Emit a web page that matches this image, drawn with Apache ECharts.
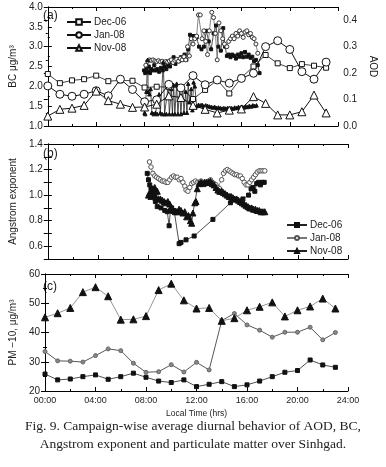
<!DOCTYPE html>
<html>
<head>
<meta charset="utf-8">
<script src="https://cdn.jsdelivr.net/npm/echarts@6/dist/echarts.min.js"></script>
<style>
  html, body { margin: 0; padding: 0; background: #fff; }
  #chart { width: 386px; height: 467px; }
</style>
</head>
<body>
<div id="chart"></div>
<script>
// hourly BC (µg/m3), 00:00 .. 23:00
const hours = [0, 1, 2, 3, 4, 5, 6, 7, 8, 9, 10, 11, 12, 13, 14, 15, 16, 17, 18, 19, 20, 21, 22, 23];
const bcDec06 = [2.31, 2.08, 2.15, 2.18, 2.27, 2.13, 2.15, 2.14, 1.97, 1.99, 1.98, 1.97, 1.68, 1.91, 2.16, 1.82, 2.22, 2.5, 2.79, 2.58, 2.46, 2.56, 2.52, 2.47];
const bcJan08 = [2.01, 1.8, 1.75, 1.8, 1.89, 1.76, 2.18, 1.92, 1.61, 1.66, 2.05, 1.96, 2.27, 2.04, 2.16, 2.08, 2.2, 2.33, 3.0, 3.15, 2.93, 2.37, 2.18, 2.61];
const bcNov08 = [1.25, 1.42, 1.45, 1.52, 1.88, 1.64, 1.55, 1.47, 1.48, 1.55, 1.76, 1.72, 1.52, 1.42, 1.33, 1.4, 1.43, 1.74, 1.57, 1.28, 1.28, 1.36, 1.78, 1.33];

// AOD [hour, value]
const aodDec06 = [[7.95,0.21],[8.05,0.2],[8.15,0.22],[8.25,0.205],[8.35,0.225],[8.45,0.2],[8.55,0.215],[8.65,0.21],[8.8,0.23],[8.9,0.21],[9.05,0.215],[9.2,0.205],[9.35,0.22],[9.5,0.21],[9.65,0.225],[9.8,0.215],[9.95,0.23],[10.1,0.225],[10.25,0.24],[10.4,0.26],[10.55,0.235],[10.7,0.25],[10.85,0.245],[11.0,0.26],[11.15,0.25],[11.3,0.27],[11.45,0.25],[11.6,0.29],[11.75,0.345],[11.9,0.34],[12.1,0.34],[12.3,0.335],[12.5,0.3],[12.7,0.29],[12.9,0.3],[13.1,0.36],[13.3,0.32],[13.5,0.29],[13.7,0.35],[13.9,0.38],[14.1,0.3],[14.3,0.285],[14.5,0.37],[14.65,0.3],[14.8,0.265],[14.95,0.27],[15.1,0.26],[15.25,0.27],[15.4,0.265],[15.55,0.255],[15.7,0.27],[15.85,0.262],[16.0,0.275],[16.15,0.26],[16.3,0.28],[16.45,0.262],[16.6,0.27],[16.75,0.258],[16.9,0.262],[17.05,0.245],[17.2,0.25],[17.35,0.23],[17.5,0.2]];
const aodJan08 = [[8.1,0.23],[8.25,0.245],[8.4,0.25],[8.55,0.248],[8.7,0.25],[8.85,0.246],[9.0,0.244],[9.15,0.247],[9.3,0.243],[9.45,0.245],[9.6,0.24],[9.75,0.244],[9.9,0.242],[10.05,0.246],[10.2,0.25],[10.35,0.24],[10.5,0.248],[10.65,0.252],[10.8,0.245],[10.95,0.255],[11.1,0.25],[11.25,0.262],[11.4,0.25],[11.55,0.3],[11.7,0.265],[11.85,0.33],[12.0,0.31],[12.15,0.33],[12.3,0.34],[12.45,0.42],[12.6,0.42],[12.75,0.33],[12.9,0.36],[13.05,0.32],[13.2,0.27],[13.35,0.36],[13.55,0.43],[13.7,0.41],[13.85,0.35],[14.0,0.25],[14.15,0.39],[14.3,0.36],[14.45,0.33],[14.6,0.31],[14.8,0.3],[14.95,0.32],[15.1,0.33],[15.25,0.34],[15.4,0.33],[15.55,0.35],[15.7,0.34],[15.85,0.36],[16.0,0.35],[16.15,0.335],[16.3,0.355],[16.45,0.36],[16.6,0.345],[16.75,0.35],[16.9,0.335],[17.05,0.33],[17.2,0.31],[17.35,0.275]];
const aodNov08 = [[8.0,0.05],[8.05,0.045],[8.15,0.13],[8.25,0.25],[8.3,0.13],[8.4,0.12],[8.5,0.14],[8.6,0.05],[8.75,0.045],[8.9,0.05],[9.05,0.045],[9.2,0.12],[9.3,0.05],[9.45,0.045],[9.55,0.24],[9.65,0.045],[9.8,0.045],[9.95,0.15],[10.05,0.045],[10.2,0.14],[10.3,0.045],[10.4,0.155],[10.5,0.045],[10.65,0.16],[10.75,0.045],[10.9,0.14],[11.0,0.045],[11.15,0.15],[11.25,0.05],[11.4,0.13],[11.5,0.05],[11.6,0.16],[11.7,0.09],[11.85,0.14],[11.95,0.06],[12.05,0.165],[12.15,0.15],[12.3,0.075],[12.45,0.08],[12.6,0.078],[12.75,0.08],[12.9,0.075],[13.05,0.078],[13.2,0.076],[13.35,0.074],[13.5,0.072],[13.65,0.07],[13.8,0.072],[13.95,0.068],[14.1,0.07],[14.25,0.068],[14.4,0.066],[14.55,0.068],[14.7,0.066],[14.85,0.068],[15.0,0.065],[15.15,0.068],[15.3,0.066],[15.45,0.07],[15.6,0.068],[15.75,0.072],[15.9,0.07],[16.05,0.073],[16.2,0.07],[16.35,0.075],[16.5,0.072],[16.65,0.076],[16.8,0.074],[16.95,0.078],[17.1,0.076],[17.25,0.078]];

// Angstrom exponent [hour, value]
const aeDec06 = [[7.95,1.17],[8.05,1.12],[8.15,1.08],[8.25,1.05],[8.4,1.01],[8.6,0.95],[8.75,0.91],[9.05,0.9],[9.35,0.88],[9.55,0.87],[9.7,0.76],[9.8,0.88],[9.9,0.9],[10.1,0.88],[10.25,0.87],[10.5,0.62],[10.65,0.63],[11.05,0.65],[11.7,0.68],[13.2,0.81],[14.6,0.94],[15.6,0.97],[16.05,1.0],[16.25,1.05],[16.4,1.06],[16.55,1.03],[16.7,1.09],[16.85,1.1],[17.0,1.08],[17.15,1.1],[17.3,1.1]];
const aeJan08 = [[8.13,1.26],[8.25,1.22],[8.4,1.17],[8.55,1.15],[8.7,1.14],[8.85,1.13],[9.0,1.12],[9.15,1.11],[9.3,1.11],[9.45,1.1],[9.6,1.1],[9.75,1.12],[9.9,1.14],[10.05,1.15],[10.2,1.14],[10.35,1.14],[10.5,1.12],[10.65,1.13],[10.8,1.1],[10.95,1.07],[11.05,1.04],[11.2,1.03],[11.35,1.06],[11.5,1.09],[11.65,1.1],[11.8,1.11],[11.95,1.1],[12.1,1.1],[12.25,1.11],[12.4,1.1],[12.55,1.1],[12.7,1.09],[12.85,1.11],[13.0,1.12],[13.15,1.1],[13.3,1.09],[13.45,1.08],[13.6,1.06],[13.75,1.05],[13.9,1.12],[14.05,1.17],[14.2,1.19],[14.35,1.2],[14.5,1.19],[14.65,1.18],[14.8,1.17],[14.95,1.16],[15.1,1.16],[15.25,1.15],[15.4,1.15],[15.55,1.13],[15.7,1.1],[15.85,1.08],[16.0,1.08],[16.15,1.1],[16.3,1.12],[16.45,1.14],[16.6,1.16],[16.75,1.18],[16.9,1.19],[17.05,1.19],[17.2,1.19],[17.35,1.19]];
const aeNov08 = [[8.05,1.0],[8.15,1.02],[8.25,0.99],[8.3,1.04],[8.4,1.05],[8.5,1.0],[8.55,1.06],[8.65,0.98],[8.75,1.03],[8.85,0.97],[9.0,0.97],[9.15,0.96],[9.3,0.95],[9.45,0.94],[9.6,0.95],[9.75,0.93],[9.9,0.9],[10.05,0.88],[10.2,0.87],[10.35,0.87],[10.5,0.89],[10.65,0.88],[10.8,0.86],[10.95,0.87],[11.1,0.83],[11.25,0.84],[11.4,0.8],[11.5,0.78],[11.6,0.86],[11.75,0.94],[11.85,0.95],[11.95,1.05],[12.1,1.09],[12.25,1.1],[12.4,1.09],[12.55,1.1],[12.7,1.1],[12.85,1.1],[13.0,1.11],[13.15,1.09],[13.3,1.08],[13.45,1.06],[13.6,1.04],[13.75,1.03],[13.9,1.03],[14.05,1.02],[14.2,1.01],[14.35,1.0],[14.5,0.99],[14.65,0.99],[14.8,0.98],[14.95,0.97],[15.1,0.97],[15.25,0.96],[15.4,0.95],[15.55,0.94],[15.7,0.93],[15.85,0.92],[16.0,0.91],[16.15,0.9],[16.3,0.9],[16.45,0.89],[16.6,0.89],[16.75,0.88],[16.9,0.88],[17.05,0.87],[17.2,0.87],[17.35,0.87]];

// hourly PM-10 (µg/m3)
const pmDec06 = [25.8, 23.8, 24.1, 24.9, 25.5, 24.0, 24.9, 26.1, 24.7, 23.4, 22.9, 23.8, 21.5, 22.3, 23.2, 21.5, 22.1, 23.4, 24.9, 26.4, 27.0, 30.6, 28.9, 28.1];
const pmJan08 = [33.5, 30.3, 30.2, 29.9, 32.1, 34.4, 33.8, 29.5, 26.4, 26.6, 29.0, 26.5, 29.8, 27.2, 44.1, 46.5, 42.6, 40.8, 38.4, 40.1, 40.1, 41.8, 37.5, 40.0];
const pmNov08 = [45.2, 46.6, 48.4, 53.8, 55.5, 52.4, 44.4, 44.5, 45.6, 54.5, 56.7, 51.0, 48.2, 48.4, 44.0, 44.9, 47.6, 48.8, 50.3, 45.5, 47.6, 48.9, 51.6, 48.2];

const timeTicks = ['00:00', '04:00', '08:00', '12:00', '16:00', '20:00', '24:00'];
const campaigns = ['Dec-06', 'Jan-08', 'Nov-08'];

const font = "'Liberation Sans', Arial, sans-serif";
const serif = "'Liberation Serif', 'Times New Roman', serif";

const hourly = (vals) => hours.map((h, i) => [h, vals[i]]);

const grids = [
    { left: 40, right: 38, top: 7, height: 119 },
    { left: 40, right: 38, top: 144, height: 115 },
    { left: 40, right: 38, top: 274, height: 117 },
];

const tick = { show: true, inside: true, length: 4, lineStyle: { color: '#000' } };
const minor = { show: true, splitNumber: 2, length: 2, lineStyle: { color: '#000' } };
const line = { show: true, lineStyle: { color: '#000', width: 1 } };

const xAxes = [];
grids.forEach((g, i) => {
    ['bottom', 'top'].forEach((pos) => {
        xAxes.push({
            type: 'value', gridIndex: i, position: pos, min: 0, max: 24, interval: 4,
            axisLine: line, axisTick: tick, minorTick: minor, splitLine: { show: false },
            axisLabel: {
                show: i === 2 && pos === 'bottom', fontFamily: font, fontSize: 9, color: '#222', margin: 5,
                formatter: (v) => timeTicks[v / 4],
            },
            name: i === 2 && pos === 'bottom' ? 'Local Time (hrs)' : '',
            nameLocation: 'middle', nameGap: 18,
            nameTextStyle: { fontFamily: font, fontSize: 8.5, color: '#222' },
        });
    });
});

const oneDec = (v) => (Math.abs(v * 10 - Math.round(v * 10)) < 1e-6 ? v.toFixed(1) : '');

const yName = (txt, gap, rot) => ({
    name: txt, nameLocation: 'middle', nameGap: gap, nameRotate: rot,
    nameTextStyle: { fontFamily: font, fontSize: 10, color: '#222' },
});

const yAxes = [
    Object.assign({
        type: 'value', gridIndex: 0, position: 'left', min: 1, max: 4, interval: 0.5,
        axisLine: line, axisTick: tick, minorTick: minor, splitLine: { show: false },
        axisLabel: { fontFamily: font, fontSize: 10, color: '#222', margin: 5, formatter: (v) => v.toFixed(1) },
    }, yName('BC μg/m³', 25, 90)),
    Object.assign({
        type: 'value', gridIndex: 0, position: 'right', min: 0, max: 0.45, interval: 0.1,
        axisLine: line, axisTick: tick, minorTick: minor, splitLine: { show: false },
        axisLabel: { fontFamily: font, fontSize: 10, color: '#222', margin: 5, formatter: oneDec },
    }, yName('AOD', 26, -90)),
    Object.assign({
        type: 'value', gridIndex: 1, position: 'left', min: 0.5, max: 1.4, interval: 0.1,
        axisLine: line, axisTick: tick, splitLine: { show: false },
        axisLabel: {
            fontFamily: font, fontSize: 10, color: '#222', margin: 5,
            formatter: (v) => (Math.round(v * 10) % 2 === 0 ? v.toFixed(1) : ''),
        },
    }, yName('Angstrom exponent', 27, 90)),
    {
        type: 'value', gridIndex: 1, position: 'right', min: 0.5, max: 1.4, interval: 0.1,
        axisLine: line, axisTick: tick, splitLine: { show: false }, axisLabel: { show: false },
    },
    Object.assign({
        type: 'value', gridIndex: 2, position: 'left', min: 20, max: 60, interval: 10,
        axisLine: line, axisTick: tick, minorTick: minor, splitLine: { show: false },
        axisLabel: { fontFamily: font, fontSize: 10, color: '#222', margin: 5 },
    }, yName('PM −10, μg/m³', 25, 90)),
    {
        type: 'value', gridIndex: 2, position: 'right', min: 20, max: 60, interval: 10,
        axisLine: line, axisTick: tick, minorTick: minor, splitLine: { show: false }, axisLabel: { show: false },
    },
];

const mk = (name, data, x, y, symbol, size, fill, stroke, lineColor, lw) => ({
    type: 'line', name, data, xAxisIndex: x, yAxisIndex: y,
    symbol, symbolSize: size, showSymbol: true, animation: false,
    itemStyle: { color: fill, borderColor: stroke, borderWidth: 1 },
    lineStyle: { color: lineColor, width: lw },
    emphasis: { disabled: true },
});

const series = [
    // (a) AOD, right axis
    mk('aDec06', aodDec06, 0, 1, 'rect', 3, '#111', '#111', '#222', 0.8),
    mk('aJan08', aodJan08, 0, 1, 'circle', 4, '#fff', '#333', '#666', 0.8),
    mk('aNov08', aodNov08, 0, 1, 'triangle', 3.5, '#111', '#111', '#222', 0.8),
    // (a) BC, left axis
    mk(campaigns[0], hourly(bcDec06), 0, 0, 'rect', 5, '#fff', '#111', '#111', 0.8),
    mk(campaigns[1], hourly(bcJan08), 0, 0, 'circle', 8, '#fff', '#111', '#111', 1),
    mk(campaigns[2], hourly(bcNov08), 0, 0, 'triangle', 8, '#fff', '#111', '#111', 1),
    // (b) Angstrom exponent
    mk('b:' + campaigns[0], aeDec06, 2, 2, 'rect', 4, '#111', '#111', '#222', 0.8),
    mk('b:' + campaigns[1], aeJan08, 2, 2, 'circle', 4.5, '#fff', '#555', '#777', 0.8),
    mk('b:' + campaigns[2], aeNov08, 2, 2, 'triangle', 6, '#111', '#111', '#222', 0.8),
    // (c) PM-10
    mk('cDec06', hourly(pmDec06), 4, 4, 'rect', 4, '#111', '#111', '#222', 0.8),
    mk('cJan08', hourly(pmJan08), 4, 4, 'circle', 4, '#888', '#666', '#444', 0.9),
    mk('cNov08', hourly(pmNov08), 4, 4, 'triangle', 7, '#111', '#111', '#888', 0.9),
];

const legendBase = {
    orient: 'vertical', selectedMode: false,
    textStyle: { fontFamily: font, fontSize: 10, color: '#222', padding: [0, 0, 0, -2] },
};

const chart = echarts.init(document.getElementById('chart'), null, { renderer: 'canvas' });
chart.setOption({
    backgroundColor: '#fff',
    animation: false,
    grid: grids,
    xAxis: xAxes,
    yAxis: yAxes,
    legend: [
        Object.assign({}, legendBase, {
            data: campaigns, left: 61, top: 12, itemWidth: 24, itemHeight: 7, itemGap: 3,
        }),
        Object.assign({}, legendBase, {
            data: campaigns.map((c) => 'b:' + c), left: 281, top: 215, itemWidth: 20, itemHeight: 5, itemGap: 3,
            formatter: (n) => n.slice(2),
        }),
    ],
    series,
    graphic: [
        { type: 'text', left: 43, top: 10, style: { text: '(a)', font: '12px ' + font, fill: '#222' } },
        { type: 'text', left: 43, top: 148, style: { text: '(b)', font: '12px ' + font, fill: '#222' } },
        { type: 'text', left: 43, top: 281, style: { text: '(c)', font: '12px ' + font, fill: '#222' } },
        {
            type: 'text', left: 'center', top: 419,
            style: { text: 'Fig. 9. Campaign-wise average diurnal behavior of AOD, BC,', font: '13.5px ' + serif, fill: '#222' },
        },
        {
            type: 'text', left: 'center', top: 437,
            style: { text: 'Angstrom exponent and particulate matter over Sinhgad.', font: '13.5px ' + serif, fill: '#222' },
        },
    ],
});
</script>
</body>
</html>
